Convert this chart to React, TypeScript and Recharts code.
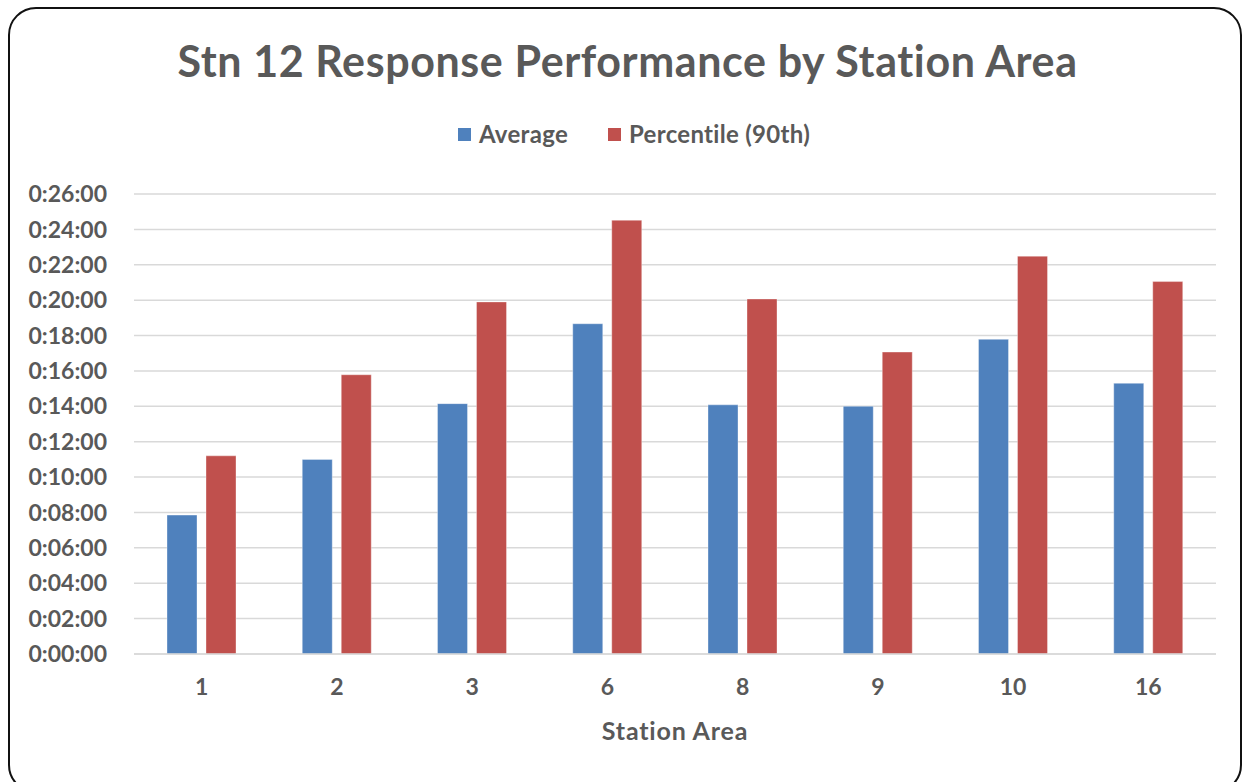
import { BarChart, Bar, XAxis, YAxis, CartesianGrid } from 'recharts'

// response times in seconds
const STATIONS = ['1', '2', '3', '6', '8', '9', '10', '16']
const AVERAGE = [471, 660, 849, 1120, 845, 840, 1067, 918]
const PCT_90 = [672, 947, 1194, 1471, 1204, 1024, 1349, 1263]
const Y_TICKS = [0, 120, 240, 360, 480, 600, 720, 840, 960, 1080, 1200, 1320, 1440, 1560]

const SERIES = [
  { key: 'average', name: 'Average', color: '#4F81BD' },
  { key: 'pct90', name: 'Percentile (90th)', color: '#C0504D' },
]

const data = STATIONS.map((s, i) => ({ station: s, average: AVERAGE[i], pct90: PCT_90[i] }))

const FONT = 'Lato, "Open Sans", sans-serif'
const GREY = '#595959'

const fmt = (sec: number) => {
  const h = Math.floor(sec / 3600)
  const m = Math.floor((sec % 3600) / 60)
  const s = sec % 60
  return `${h}:${String(m).padStart(2, '0')}:${String(s).padStart(2, '0')}`
}

export default function App() {
  return (
    <div style={{ position: 'absolute', left: 0, top: 0, width: 1245, height: 782, background: '#fff', overflow: 'hidden', fontFamily: FONT }}>
      <div
        style={{
          position: 'absolute', left: 8, top: 7, width: 1230, height: 782,
          border: '2px solid #111', borderRadius: 28,
        }}
      />
      <div
        style={{
          position: 'absolute', left: 5, top: 34, width: 1245, textAlign: 'center',
          fontSize: 43, fontWeight: 700, color: GREY, lineHeight: '54px', letterSpacing: 0.6,
        }}
      >
        Stn 12 Response Performance by Station Area
      </div>
      <div
        style={{
          position: 'absolute', left: 0, top: 119, width: 1268, display: 'flex', justifyContent: 'center',
          gap: 40, fontSize: 24, fontWeight: 700, color: GREY, lineHeight: '30px', letterSpacing: 0.3,
        }}
      >
        {SERIES.map((s) => (
          <div key={s.key} style={{ display: 'flex', alignItems: 'center', gap: 8 }}>
            <span style={{ width: 13, height: 13, background: s.color, display: 'inline-block' }} />
            <span>{s.name}</span>
          </div>
        ))}
      </div>
      <div style={{ position: 'absolute', left: 0, top: 0 }}>
        <BarChart
          width={1245}
          height={782}
          data={data}
          margin={{ top: 194, right: 29, bottom: 28, left: 9 }}
          barSize={30}
          barGap={9}
        >
          <CartesianGrid vertical={false} stroke="#d9d9d9" strokeWidth={1.5} />
          <XAxis
            dataKey="station"
            height={100}
            axisLine={{ stroke: '#d9d9d9', strokeWidth: 1.5 }}
            tickLine={false}
            tickSize={0}
            tickMargin={25}
            tick={{ fontSize: 23, fontWeight: 700, fill: GREY, fontFamily: FONT }}
            label={{ value: 'Station Area', position: 'insideBottom', offset: 14, fontSize: 25, fontWeight: 700, fill: GREY, fontFamily: FONT, letterSpacing: 0.8 }}
          />
          <YAxis
            width={125}
            domain={[0, 1560]}
            ticks={Y_TICKS}
            tickFormatter={fmt}
            axisLine={false}
            tickLine={false}
            tickSize={0}
            tickMargin={27}
            tick={{ fontSize: 23, fontWeight: 700, fill: GREY, fontFamily: FONT }}
          />
          {SERIES.map((s) => (
            <Bar key={s.key} dataKey={s.key} name={s.name} fill={s.color} stroke="#ffffff" strokeOpacity={0.35} isAnimationActive={false} />
          ))}
        </BarChart>
      </div>
    </div>
  )
}
